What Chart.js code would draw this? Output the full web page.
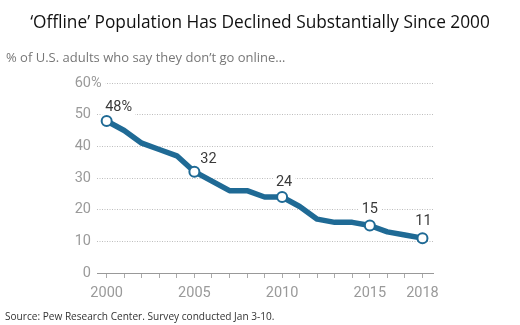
<!DOCTYPE html>
<html>
<head>
<meta charset="utf-8">
<script src="https://cdn.jsdelivr.net/npm/chart.js@4"></script>
<style>
  html, body { margin: 0; padding: 0; background: #fff; }
  #wrap { position: relative; width: 520px; height: 325px; overflow: hidden; }
  #chart { position: absolute; left: 0; top: 0; }
  .txt { position: absolute; white-space: nowrap; font-family: "Open Sans", sans-serif; line-height: 1; }
  #title { left: 0; width: 520px; text-align: center; top: 13px; font-size: 17.3px; color: #111; }
  #subtitle { left: 6px; top: 51px; font-size: 13px; color: #777; }
  #source { left: 5px; top: 311px; font-size: 10.1px; color: #333; }
</style>
</head>
<body>
<div id="wrap">
  <canvas id="chart" width="520" height="325"></canvas>
  <div class="txt" id="title">‘Offline’ Population Has Declined Substantially Since 2000</div>
  <div class="txt" id="subtitle">% of U.S. adults who say they don’t go online…</div>
  <div class="txt" id="source">Source: Pew Research Center. Survey conducted Jan 3-10.</div>
</div>
<script>
const years = [2000,2001,2002,2003,2004,2005,2006,2007,2008,2009,2010,2011,2012,2013,2014,2015,2016,2017,2018];
const offline = [48,45,41,39,37,32,29,26,26,24,24,21,17,16,16,15,13,12,11];
const labeledYears = [2000,2005,2010,2015,2018];
const pointLabels = ['48%','32','24','15','11'];
const xTickLabels = [2000,2005,2010,2015,2018];
const yTicks = [0,10,20,30,40,50,60];

const BLUE = '#1f6a95';
const labelOffsets = { 2000: [12, -14], 2005: [14, -12], 2010: [2, -15], 2015: [0, -16], 2018: [1, -17] };

const labelPlugin = {
  id: 'labels',
  beforeDatasetsDraw(chart) {
    const ctx = chart.ctx;
    const xs = chart.scales.x, ys = chart.scales.y;
    ctx.save();
    ctx.font = '14.5px Roboto, "Liberation Sans", sans-serif';
    yTicks.forEach(v => {
      const y = ys.getPixelForValue(v);
      const s = String(v);
      const w = ctx.measureText(s).width;
      const pw = v === 60 ? ctx.measureText('%').width : 0;
      ctx.fillStyle = '#fff';
      ctx.fillRect(91 - w - 2, y - 8, w + pw + 6, 16);
      ctx.fillStyle = '#9a9a9a';
      ctx.textBaseline = 'middle';
      ctx.textAlign = 'right';
      ctx.fillText(s, 91, y);
      if (v === 60) { ctx.textAlign = 'left'; ctx.fillText('%', 91, y); }
    });
    labeledYears.forEach((yr, i) => {
      const idx = years.indexOf(yr);
      const px = xs.getPixelForValue(yr) + labelOffsets[yr][0];
      const py = ys.getPixelForValue(offline[idx]) + labelOffsets[yr][1];
      const w = ctx.measureText(pointLabels[i]).width;
      ctx.fillStyle = '#fff';
      ctx.fillRect(px - w / 2 - 3, py - 8, w + 6, 16);
    });
    ctx.restore();
  },
  afterDatasetsDraw(chart) {
    const ctx = chart.ctx;
    const xs = chart.scales.x, ys = chart.scales.y;
    ctx.save();
    ctx.font = '14.5px Roboto, "Liberation Sans", sans-serif';
    ctx.fillStyle = '#3a3a3a';
    ctx.textAlign = 'center';
    ctx.textBaseline = 'middle';
    labeledYears.forEach((yr, i) => {
      const idx = years.indexOf(yr);
      const px = xs.getPixelForValue(yr) + labelOffsets[yr][0];
      const py = ys.getPixelForValue(offline[idx]) + labelOffsets[yr][1];
      ctx.fillText(pointLabels[i], px, py);
    });
    ctx.restore();
  }
};

new Chart(document.getElementById('chart'), {
  type: 'line',
  data: {
    datasets: [{
      data: years.map((y, i) => ({ x: y, y: offline[i] })),
      borderColor: BLUE,
      borderWidth: 5.5,
      borderJoinStyle: 'round',
      borderCapStyle: 'round',
      tension: 0,
      pointRadius: ctx => labeledYears.includes(years[ctx.dataIndex]) ? 5 : 0,
      pointHoverRadius: 0,
      pointBackgroundColor: '#fff',
      pointBorderColor: BLUE,
      pointBorderWidth: 2,
      clip: false
    }]
  },
  options: {
    responsive: false,
    animation: false,
    events: [],
    layout: { padding: { left: 97, right: 87, top: 83, bottom: 0 } },
    plugins: { legend: { display: false }, tooltip: { enabled: false } },
    scales: {
      x: {
        type: 'linear',
        min: 1999.45,
        max: 2018.6,
        afterBuildTicks(scale) {
          scale.ticks = years.map(v => ({ value: v }));
        },
        afterFit(scale) { scale.height = 52; },
        ticks: {
          autoSkip: false,
          maxRotation: 0,
          padding: 7,
          color: '#9a9a9a',
          font: { family: 'Roboto, "Liberation Sans", sans-serif', size: 14.5 },
          callback: v => xTickLabels.includes(v) ? String(v) : ''
        },
        grid: { display: true, drawOnChartArea: false, drawTicks: true, tickLength: 5, color: '#aaa', lineWidth: 1 },
        border: { display: true, color: '#999', width: 1 }
      },
      y: {
        min: 0,
        max: 60,
        afterBuildTicks(scale) {
          scale.ticks = yTicks.filter(v => v > 0).map(v => ({ value: v }));
        },
        afterFit(scale) { scale.width = 0; },
        ticks: { display: false },
        grid: { display: true, drawTicks: false, color: '#bdbdbd', lineWidth: 1 },
        border: { display: false, dash: [1, 1.5] }
      }
    }
  },
  plugins: [labelPlugin]
});
</script>
</body>
</html>
